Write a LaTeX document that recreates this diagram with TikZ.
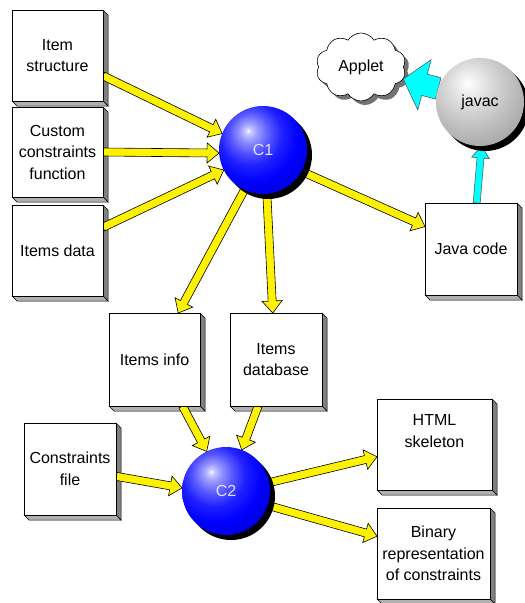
\documentclass[tikz,border=0pt]{standalone}
\usepackage{fontspec}
\setmainfont{Liberation Sans}
\usetikzlibrary{calc,shapes.symbols,shadows,backgrounds}
\definecolor{lav}{RGB}{225,225,255}
\definecolor{aqua}{RGB}{0,255,255}
\definecolor{sidegray}{RGB}{128,128,128}
\definecolor{botgray}{RGB}{176,176,176}
\pgfdeclareradialshading{bluesph}{\pgfpoint{-8.5bp}{11bp}}{%
  color(0bp)=(white); color(1.5bp)=(blue!20!white); color(5bp)=(blue!40!white);
  color(11bp)=(blue!65!white); color(18bp)=(blue!88!white); color(26bp)=(blue);
  color(36bp)=(blue!85!black); color(100bp)=(blue!85!black)}
\pgfdeclareradialshading{graysph}{\pgfpoint{-7bp}{11bp}}{%
  color(0bp)=(white); color(4bp)=(black!5); color(12bp)=(black!14);
  color(22bp)=(black!24); color(34bp)=(black!34); color(100bp)=(black!34)}
\newcommand\fatarrow[6]{%
  \coordinate (fa-s) at (#2);
  \coordinate (fa-e) at (#3);
  \coordinate (fa-h) at ($(fa-e)!#6!(fa-s)$);
  \filldraw[#1] ($(fa-s)!#4!90:(fa-e)$) -- ($(fa-h)!#4!-90:(fa-s)$)
    -- ($(fa-h)!#5!-90:(fa-s)$) -- (fa-e) -- ($(fa-h)!#5!90:(fa-s)$)
    -- ($(fa-h)!#4!90:(fa-s)$) -- ($(fa-s)!#4!-90:(fa-e)$) -- cycle;}
\begin{document}
\begin{tikzpicture}[x=1pt,y=-1pt,
  box/.style={draw, fill=white, line width=0.7pt, minimum width=91pt,
    minimum height=91pt, inner sep=2pt, outer sep=0pt, align=center,
    font=\fontsize{16}{21.5}\selectfont},
  sphere/.style={circle, minimum size=88pt, inner sep=0pt, outer sep=0pt,
    shade, font=\fontsize{16}{19}\selectfont,
    drop shadow={shadow xshift=5pt, shadow yshift=-5pt, fill=black, opacity=1}},
  yarrow/.style={fill=yellow, draw=black, line width=0.6pt, line join=miter},
  carrow/.style={fill=aqua, draw=black!70, line width=0.5pt, line join=miter},
  sideface/.style={fill=sidegray, draw=black, line width=0.5pt},
  botface/.style={fill=botgray, draw=black, line width=0.5pt}]
\useasboundingbox (0,0) rectangle (525,603);
% boxes
\node[box] (is) at (57.5,55.5) {Item\\structure};
\node[box, minimum height=90pt] (cc) at (57.5,152) {Custom\\constraints\\function};
\node[box] (id) at (57.5,250.5) {Items data};
\node[box, minimum width=92pt, minimum height=92pt] (jc) at (471,249) {Java code};
\node[box, minimum height=93pt] (ii) at (154.5,359.5) {Items info};
\node[box, minimum width=92pt, minimum height=93pt] (idb) at (276,359.5) {Items\\database};
\node[box, minimum width=92pt, minimum height=92pt] (cf) at (70,469) {Constraints\\file};
\node[box, minimum width=115pt] (html) at (434.5,444.5) {HTML\\skeleton\\[6pt]};
\node[box, minimum width=113pt] (bin) at (433.5,553.5) {Binary\\representation\\of constraints};
% spheres
\node[sphere, shading=bluesph, text=lav] (c1) at (263,150) {C1};
\node[sphere, shading=bluesph, text=lav] (c2) at (226,491) {C2};
\node[sphere, shading=graysph] (jv) at (480,102) {javac};
\begin{pgfonlayer}{background}
  % cloud
  \node[cloud, cloud puffs=10, cloud puff arc=115, aspect=1.35, draw, fill=white,
    line width=0.6pt, minimum width=90pt, minimum height=68pt, inner sep=0pt,
    font=\fontsize{16}{19}\selectfont,
    drop shadow={shadow xshift=4pt, shadow yshift=-4pt, fill=black!55, opacity=1}]
    (ap) at (361,67) {Applet};
  \foreach \n in {is,cc,id,jc,ii,idb,cf,html,bin}{
    \filldraw[sideface] (\n.north east) -- ($(\n.north east)+(5,5)$)
      -- ($(\n.south east)+(5,5)$) -- (\n.south east) -- cycle;
    \filldraw[botface] (\n.south west) -- (\n.south east)
      -- ($(\n.south east)+(5,5)$) -- ($(\n.south west)+(5,5)$) -- cycle;
  }
  % yellow arrows
  \fatarrow{yarrow}{is.-24}{c1.158}{4pt}{10pt}{12pt}
  \fatarrow{yarrow}{cc.east}{c1.184}{4pt}{10pt}{12pt}
  \fatarrow{yarrow}{id.27}{c1.207}{4pt}{10pt}{12pt}
  \fatarrow{yarrow}{c1.245}{ii.63}{4pt}{10pt}{12pt}
  \fatarrow{yarrow}{c1.275}{idb.94}{4pt}{10pt}{12pt}
  \fatarrow{yarrow}{c1.-29}{jc.154}{4pt}{10pt}{12pt}
  \fatarrow{yarrow}{ii.-59}{c2.116}{4pt}{10pt}{12pt}
  \fatarrow{yarrow}{idb.-111}{c2.69}{4pt}{10pt}{12pt}
  \fatarrow{yarrow}{cf.-9}{c2.176}{4pt}{10pt}{12pt}
  \fatarrow{yarrow}{c2.11}{html.192}{4pt}{10pt}{12pt}
  \fatarrow{yarrow}{c2.-19}{bin.163}{4pt}{10pt}{12pt}
  % cyan arrows
  \fatarrow{carrow}{jc.83}{jv.272}{3.5pt}{9pt}{12pt}
  \fatarrow{carrow}{jv.162}{ap.-16}{11pt}{26pt}{22pt}
\end{pgfonlayer}
\end{tikzpicture}
\end{document}
